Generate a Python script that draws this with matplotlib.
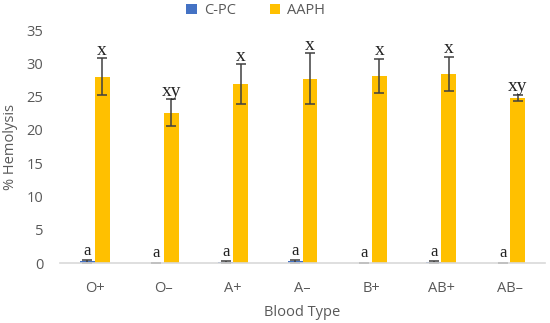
import matplotlib
import matplotlib.pyplot as plt
import numpy as np

matplotlib.use('Agg')

blood_types = ['O+', 'O\u2013', 'A+', 'A\u2013', 'B+', 'AB+', 'AB\u2013']
cpc_mean = [0.3, 0.1, 0.2, 0.3, 0.1, 0.2, 0.1]
cpc_err = [0.2, 0.0, 0.1, 0.2, 0.0, 0.1, 0.0]
aaph_mean = [28.0, 22.6, 26.9, 27.7, 28.1, 28.4, 24.8]
aaph_err = [2.8, 2.0, 3.0, 3.8, 2.6, 2.6, 0.5]
cpc_letters = ['a', 'a', 'a', 'a', 'a', 'a', 'a']
aaph_letters = ['x', 'xy', 'x', 'x', 'x', 'x', 'xy']

BLUE = '#4472C4'
YELLOW = '#FFC000'
GREY = '#595959'

plt.rcParams['font.family'] = ['Open Sans', 'DejaVu Sans']

fig = plt.figure(figsize=(5.5, 3.23), dpi=100)
ax = fig.add_axes([0.109, 0.185, 0.882, 0.722])

x = np.arange(len(blood_types))
w = 0.216
err_style = dict(ecolor='#404040', elinewidth=1.1, capsize=3.5, capthick=1.1)
ax.bar(x - w / 2, cpc_mean, w, color=BLUE, label='C-PC',
       yerr=cpc_err, error_kw=err_style)
ax.bar(x + w / 2, aaph_mean, w, color=YELLOW, label='AAPH',
       yerr=aaph_err, error_kw=err_style)

for i in x:
    ax.text(i - w / 2, cpc_mean[i] + cpc_err[i] + 0.2, cpc_letters[i],
            ha='center', va='bottom', family='Liberation Serif', fontsize=12, color='#222222')
    ax.text(i + w / 2, aaph_mean[i] + aaph_err[i] - 0.1, aaph_letters[i],
            ha='center', va='bottom', family='Liberation Serif', fontsize=14, color='#222222')

ax.set_xlim(-0.5, len(blood_types) - 0.5)
ax.set_ylim(0, 35)
ax.set_yticks(range(0, 36, 5))
ax.set_xticks(x)
ax.set_xticklabels(blood_types)
ax.tick_params(length=0, labelsize=10.5, colors=GREY)
ax.tick_params(axis='x', pad=13)
ax.tick_params(axis='y', pad=12)
for s in ['top', 'right', 'left']:
    ax.spines[s].set_visible(False)
ax.spines['bottom'].set_color('#D9D9D9')
ax.spines['bottom'].set_linewidth(1.2)

ax.set_xlabel('Blood Type', fontsize=10.5, color=GREY, labelpad=6)
ax.set_ylabel('% Hemolysis', fontsize=10.5, color=GREY, labelpad=6)

fig.legend(loc='upper center', bbox_to_anchor=(0.465, 1.03), ncol=2, frameon=False,
           fontsize=10.5, labelcolor=GREY, handlelength=0.7, handleheight=0.7,
           columnspacing=2.3, handletextpad=0.5)

fig.savefig('out.png', dpi=100)
